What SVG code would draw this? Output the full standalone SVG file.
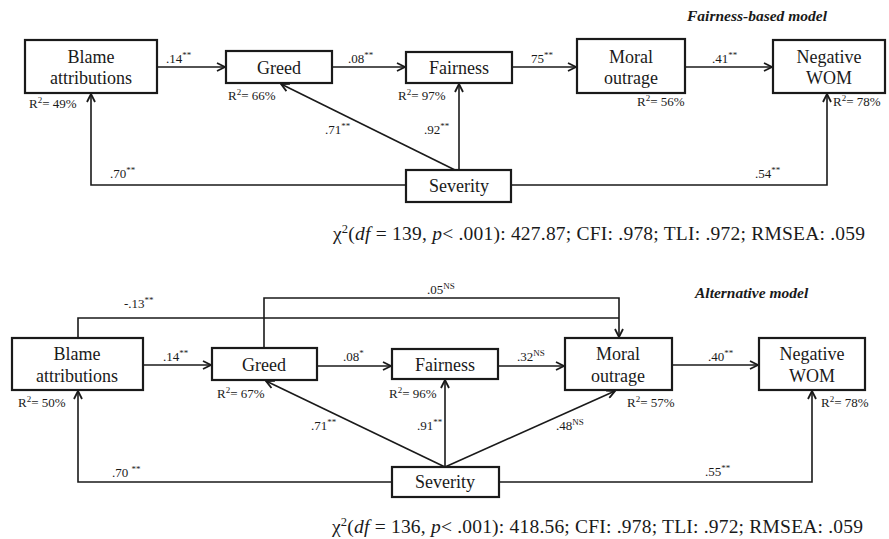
<svg xmlns="http://www.w3.org/2000/svg" width="889" height="539" viewBox="0 0 889 539" font-family="'Liberation Serif', 'Times New Roman', serif">
<defs>
<marker id="arr" viewBox="0 0 10 10" refX="9" refY="5" markerWidth="10" markerHeight="10" markerUnits="userSpaceOnUse" orient="auto">
<path d="M1,1 L9,5 L1,9" fill="none" stroke="#1a1a1a" stroke-width="1.8"/>
</marker>
<style>
.box{fill:#fff;stroke:#1a1a1a;stroke-width:2.2}
.lbl{font-family:Liberation Serif,Times New Roman,serif;font-size:18px;fill:#1a1a1a;text-anchor:middle}
.sm{font-family:Liberation Serif,Times New Roman,serif;font-size:13px;fill:#1a1a1a}
.sup{font-size:9px}
.ttl{font-family:Liberation Serif,Times New Roman,serif;font-size:15.5px;font-weight:bold;font-style:italic;fill:#1a1a1a}
.fit{font-family:Liberation Serif,Times New Roman,serif;font-size:19.5px;fill:#1a1a1a}
.ln{fill:none;stroke:#1a1a1a;stroke-width:1.6}
</style>
</defs>

<text class="ttl" x="687" y="21">Fairness-based model</text>

<g id="conn-top">
<line class="ln" x1="157" y1="67" x2="225" y2="67" marker-end="url(#arr)"/>
<line class="ln" x1="332" y1="67" x2="405" y2="67" marker-end="url(#arr)"/>
<line class="ln" x1="512" y1="67" x2="576" y2="67" marker-end="url(#arr)"/>
<line class="ln" x1="685" y1="67" x2="772" y2="67" marker-end="url(#arr)"/>
<line class="ln" x1="455" y1="170" x2="281" y2="84" marker-end="url(#arr)"/>
<line class="ln" x1="459" y1="170" x2="459" y2="84" marker-end="url(#arr)"/>
<polyline class="ln" points="406,185 91,185 91,94" marker-end="url(#arr)"/>
<polyline class="ln" points="511,185 827,185 827,94" marker-end="url(#arr)"/>
</g>

<g id="t-blame"><rect class="box" x="25" y="40" width="132" height="53"/><text class="lbl" x="91" y="63">Blame</text><text class="lbl" x="91" y="84">attributions</text></g>
<g id="t-greed"><rect class="box" x="226" y="51" width="106" height="32"/><text class="lbl" x="279" y="74">Greed</text></g>
<g id="t-fairness"><rect class="box" x="406" y="52" width="106" height="31"/><text class="lbl" x="459" y="74">Fairness</text></g>
<g id="t-moral"><rect class="box" x="577" y="39" width="108" height="54"/><text class="lbl" x="631" y="63">Moral</text><text class="lbl" x="631" y="84">outrage</text></g>
<g id="t-wom"><rect class="box" x="773" y="40" width="112" height="53"/><text class="lbl" x="829" y="63">Negative</text><text class="lbl" x="829" y="84">WOM</text></g>
<g id="t-severity"><rect class="box" x="406" y="170" width="105" height="32"/><text class="lbl" x="459" y="192">Severity</text></g>

<g id="top-labels">
<text class="sm" x="166" y="63">.14<tspan class="sup" dy="-5">**</tspan></text>
<text class="sm" x="348" y="63">.08<tspan class="sup" dy="-5">**</tspan></text>
<text class="sm" x="531" y="63">75<tspan class="sup" dy="-5">**</tspan></text>
<text class="sm" x="712" y="63">.41<tspan class="sup" dy="-5">**</tspan></text>
<text class="sm" x="325" y="134">.71<tspan class="sup" dy="-5">**</tspan></text>
<text class="sm" x="424" y="134">.92<tspan class="sup" dy="-5">**</tspan></text>
<text class="sm" x="110" y="178">.70<tspan class="sup" dy="-5">**</tspan></text>
<text class="sm" x="755" y="178">.54<tspan class="sup" dy="-5">**</tspan></text>
<text class="sm" x="29" y="108">R<tspan class="sup" dy="-5">2</tspan><tspan dy="5">= 49%</tspan></text>
<text class="sm" x="228" y="100">R<tspan class="sup" dy="-5">2</tspan><tspan dy="5">= 66%</tspan></text>
<text class="sm" x="398" y="100">R<tspan class="sup" dy="-5">2</tspan><tspan dy="5">= 97%</tspan></text>
<text class="sm" x="637" y="106">R<tspan class="sup" dy="-5">2</tspan><tspan dy="5">= 56%</tspan></text>
<text class="sm" x="833" y="106">R<tspan class="sup" dy="-5">2</tspan><tspan dy="5">= 78%</tspan></text>
</g>

<text class="fit" x="333" y="240" textLength="532" lengthAdjust="spacing">χ<tspan font-size="12.5" dy="-7">2</tspan><tspan dy="7">(</tspan><tspan font-style="italic">df</tspan> = 139, <tspan font-style="italic">p</tspan>&lt; .001): 427.87; CFI: .978; TLI: .972; RMSEA:  .059</text>

<text class="ttl" x="695" y="298">Alternative model</text>

<g id="conn-bottom">
<line class="ln" x1="143" y1="365" x2="211" y2="365" marker-end="url(#arr)"/>
<line class="ln" x1="317" y1="366" x2="391" y2="366" marker-end="url(#arr)"/>
<line class="ln" x1="498" y1="366" x2="564" y2="366" marker-end="url(#arr)"/>
<line class="ln" x1="672" y1="365" x2="758" y2="365" marker-end="url(#arr)"/>
<polyline class="ln" points="78,338 78,318 619,318"/>
<polyline class="ln" points="264,348 264,298 619,298 619,337" marker-end="url(#arr)"/>
<line class="ln" x1="445" y1="467" x2="266" y2="381" marker-end="url(#arr)"/>
<line class="ln" x1="445" y1="467" x2="445" y2="380" marker-end="url(#arr)"/>
<line class="ln" x1="445" y1="467" x2="615" y2="391" marker-end="url(#arr)"/>
<polyline class="ln" points="392,482 78,482 78,391" marker-end="url(#arr)"/>
<polyline class="ln" points="499,482 812,482 812,391" marker-end="url(#arr)"/>
</g>

<g id="b-blame"><rect class="box" x="12" y="338" width="131" height="52"/><text class="lbl" x="77" y="360">Blame</text><text class="lbl" x="77" y="382">attributions</text></g>
<g id="b-greed"><rect class="box" x="212" y="348" width="105" height="32"/><text class="lbl" x="264" y="371">Greed</text></g>
<g id="b-fairness"><rect class="box" x="392" y="349" width="106" height="30"/><text class="lbl" x="445" y="371">Fairness</text></g>
<g id="b-moral"><rect class="box" x="565" y="338" width="107" height="52"/><text class="lbl" x="618" y="360">Moral</text><text class="lbl" x="618" y="382">outrage</text></g>
<g id="b-wom"><rect class="box" x="759" y="338" width="106" height="52"/><text class="lbl" x="812" y="360">Negative</text><text class="lbl" x="812" y="382">WOM</text></g>
<g id="b-severity"><rect class="box" x="392" y="467" width="107" height="30"/><text class="lbl" x="445" y="488">Severity</text></g>

<g id="bottom-labels">
<text class="sm" x="427" y="294">.05<tspan class="sup" dy="-5">NS</tspan></text>
<text class="sm" x="124" y="308">-.13<tspan class="sup" dy="-5">**</tspan></text>
<text class="sm" x="163" y="361">.14<tspan class="sup" dy="-5">**</tspan></text>
<text class="sm" x="343" y="361">.08<tspan class="sup" dy="-5">*</tspan></text>
<text class="sm" x="517" y="361">.32<tspan class="sup" dy="-5">NS</tspan></text>
<text class="sm" x="708" y="361">.40<tspan class="sup" dy="-5">**</tspan></text>
<text class="sm" x="311" y="430">.71<tspan class="sup" dy="-5">**</tspan></text>
<text class="sm" x="417" y="430">.91<tspan class="sup" dy="-5">**</tspan></text>
<text class="sm" x="556" y="430">.48<tspan class="sup" dy="-5">NS</tspan></text>
<text class="sm" x="112" y="477">.70 <tspan class="sup" dy="-5">**</tspan></text>
<text class="sm" x="705" y="476">.55<tspan class="sup" dy="-5">**</tspan></text>
<text class="sm" x="18" y="407">R<tspan class="sup" dy="-5">2</tspan><tspan dy="5">= 50%</tspan></text>
<text class="sm" x="217" y="398">R<tspan class="sup" dy="-5">2</tspan><tspan dy="5">= 67%</tspan></text>
<text class="sm" x="389" y="398">R<tspan class="sup" dy="-5">2</tspan><tspan dy="5">= 96%</tspan></text>
<text class="sm" x="627" y="407">R<tspan class="sup" dy="-5">2</tspan><tspan dy="5">= 57%</tspan></text>
<text class="sm" x="821" y="407">R<tspan class="sup" dy="-5">2</tspan><tspan dy="5">= 78%</tspan></text>
</g>

<text class="fit" x="332" y="533" textLength="531" lengthAdjust="spacing">χ<tspan font-size="12.5" dy="-7">2</tspan><tspan dy="7">(</tspan><tspan font-style="italic">df</tspan> = 136, <tspan font-style="italic">p</tspan>&lt; .001): 418.56; CFI: .978; TLI: .972; RMSEA:  .059</text>
</svg>
